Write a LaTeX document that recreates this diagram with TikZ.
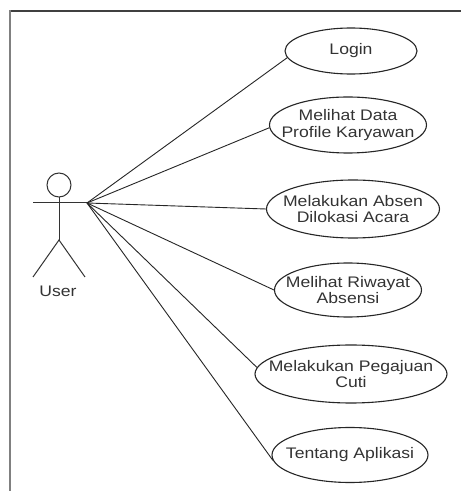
\documentclass[tikz,border=0pt]{standalone}
\usepackage{fontspec}
\setmainfont{Liberation Sans}[FakeStretch=1.15]
\usetikzlibrary{shapes.geometric}
\begin{document}
\begin{tikzpicture}[x=1pt,y=1pt,
  usecase/.style={ellipse,draw=black!85,line width=1.1pt,inner sep=0pt},
  uctext/.style={align=center,inner sep=0pt,font=\fontsize{15.3}{16.5}\selectfont,text=black!80},
  link/.style={draw=black!85,line width=0.9pt},
  actorline/.style={draw=black!80,line width=1pt}]
\useasboundingbox (0,0) rectangle (461,491);
\fill[white] (0,0) rectangle (461,491);
% frame
\draw[black!75,line width=1.2pt] (9,480) -- (461,480);
\draw[black!50,line width=2pt] (9.5,480.6) -- (9.5,0);
% actor
\node[circle,draw=black!80,line width=1pt,minimum size=24pt,inner sep=0pt] (head) at (59,306) {};
\coordinate (armL) at (33,288);
\coordinate (hand) at (87,288);
\coordinate (hip) at (59,251);
\coordinate (legL) at (33,214);
\coordinate (legR) at (85,214);
\draw[actorline] (armL) -- (hand);
\draw[actorline] (head.south) -- (hip);
\draw[actorline] (legL) -- (hip) -- (legR);
\node[uctext] (user) at (58,200) {User};
% use cases
\node[usecase,minimum width=132pt,minimum height=46pt,label={[uctext]center:Login}] (login) at (351,440) {};
\node[usecase,minimum width=157pt,minimum height=56pt,label={[uctext]center:Melihat Data\\Profile Karyawan}] (profil) at (348,366) {};
\node[usecase,minimum width=173pt,minimum height=58pt,label={[uctext]center:Melakukan Absen\\Dilokasi Acara}] (absen) at (353,282) {};
\node[usecase,minimum width=147pt,minimum height=54pt,label={[uctext]center:Melihat Riwayat\\Absensi}] (riwayat) at (348,201) {};
\node[usecase,minimum width=192pt,minimum height=58pt,label={[uctext]center:Melakukan Pegajuan\\Cuti}] (cuti) at (351,117) {};
\node[usecase,minimum width=156pt,minimum height=55pt,label={[uctext]center:Tentang Aplikasi}] (tentang) at (350,36) {};
% connectors
\draw[link] (hand) -- (login.186);
\draw[link] (hand) -- (profil.182);
\draw[link] (hand) -- (absen.west);
\draw[link] (hand) -- (riwayat.west);
\draw[link] (hand) -- (cuti.176);
\draw[link] (hand) -- (tentang.184);
\end{tikzpicture}
\end{document}
